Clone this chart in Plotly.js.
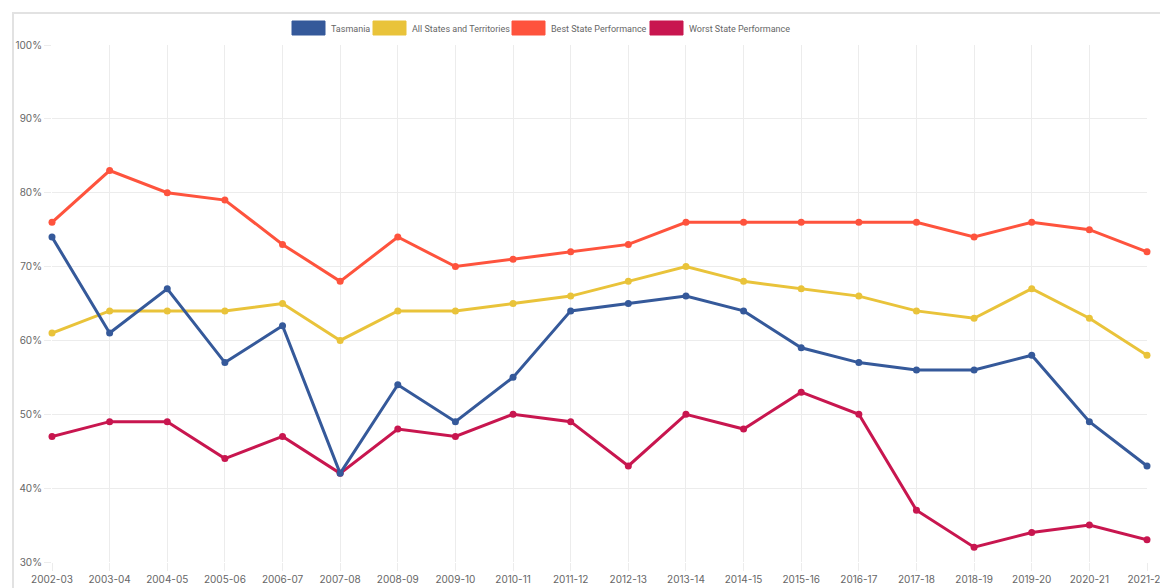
<!DOCTYPE html>
<html>
<head>
<meta charset="utf-8">
<script src="https://cdn.plot.ly/plotly-3.0.1.min.js"></script>
<style>
  html, body { margin: 0; padding: 0; background: #fff; overflow: hidden; }
  #wrap { position: relative; width: 1160px; height: 588px; }
  #frame { position: absolute; left: 12px; top: 12px; width: 1160px; height: 600px;
           border-left: 2px solid #e2e2e2; border-top: 2px solid #e2e2e2; pointer-events: none; }
  #chart { position: absolute; left: 0; top: 0; width: 1160px; height: 588px; }
</style>
</head>
<body>
<div id="wrap">
  <div id="chart"></div>
  <div id="frame"></div>
</div>
<script>
const years = ["2002-03","2003-04","2004-05","2005-06","2006-07","2007-08","2008-09","2009-10","2010-11","2011-12",
               "2012-13","2013-14","2014-15","2015-16","2016-17","2017-18","2018-19","2019-20","2020-21","2021-22"];
const tasmania = [74, 61, 67, 57, 62, 42, 54, 49, 55, 64, 65, 66, 64, 59, 57, 56, 56, 58, 49, 43];
const allStates = [61, 64, 64, 64, 65, 60, 64, 64, 65, 66, 68, 70, 68, 67, 66, 64, 63, 67, 63, 58];
const bestState = [76, 83, 80, 79, 73, 68, 74, 70, 71, 72, 73, 76, 76, 76, 76, 76, 74, 76, 75, 72];
const worstState = [47, 49, 49, 44, 47, 42, 48, 47, 50, 49, 43, 50, 48, 53, 50, 37, 32, 34, 35, 33];
const yTicks = [30, 40, 50, 60, 70, 80, 90, 100];

const seriesNames = ["Tasmania", "All States and Territories", "Best State Performance", "Worst State Performance"];
const seriesData = [tasmania, allStates, bestState, worstState];
const colors = ["#35599a", "#e9c33a", "#fe533d", "#c8164f"];

const W = 1160, H = 588;
const M = {l: 52, r: 13, t: 45, b: 26};
const pw = W - M.l - M.r, ph = H - M.t - M.b;
const px2x = px => (px - M.l) / pw;
const py2y = py => (H - M.b - py) / ph;

// Plot in reverse order so Tasmania line is on top like the reference
const traces = [];
for (let i = seriesData.length - 1; i >= 0; i--) {
  traces.push({
    type: "scatter", mode: "lines+markers",
    name: seriesNames[i], x: years, y: seriesData[i],
    line: {color: colors[i], width: 3},
    marker: {color: colors[i], size: 7},
    cliponaxis: false, showlegend: false,
    hovertemplate: "%{x}: %{y}%<extra>" + seriesNames[i] + "</extra>"
  });
}

// Custom Chart.js-like legend (box swatches)
const legendBoxes = [[292, 325], [373, 406], [512, 545], [650, 683]];
const legendTextX = [329, 410, 549, 687];
const shapes = [], annotations = [];
for (let i = 0; i < seriesNames.length; i++) {
  shapes.push({type: "rect", xref: "paper", yref: "paper",
    x0: px2x(legendBoxes[i][0]), x1: px2x(legendBoxes[i][1]),
    y0: py2y(35), y1: py2y(21),
    fillcolor: colors[i], line: {color: colors[i], width: 1}});
  annotations.push({xref: "paper", yref: "paper", x: px2x(legendTextX[i]), y: py2y(28.5),
    xanchor: "left", yanchor: "middle", showarrow: false, text: seriesNames[i],
    font: {family: "Roboto, sans-serif", size: 9, color: "#666"}});
}

const layout = {
  width: W, height: H,
  margin: {l: M.l, r: M.r, t: M.t, b: M.b, pad: 0},
  paper_bgcolor: "#fff", plot_bgcolor: "#fff",
  showlegend: false,
  font: {family: "Inter, sans-serif", size: 10, color: "#666"},
  xaxis: {
    type: "category", range: [0, years.length - 1],
    showgrid: true, gridcolor: "#ececec", gridwidth: 1,
    ticks: "outside", ticklen: 8, tickcolor: "#ececec", tickwidth: 1,
    showline: false, zeroline: false, automargin: false,
    tickfont: {family: "Inter, sans-serif", size: 10, color: "#666"}
  },
  yaxis: {
    range: [30, 100], tickvals: yTicks, ticktext: yTicks.map(v => v + "%"),
    showgrid: true, gridcolor: "#ececec", gridwidth: 1,
    ticks: "outside", ticklen: 7, tickcolor: "#ececec", tickwidth: 1,
    showline: false, zeroline: false, automargin: false,
    tickfont: {family: "Inter, sans-serif", size: 10, color: "#666"}
  },
  shapes: shapes,
  annotations: annotations
};

Plotly.newPlot("chart", traces, layout, {displayModeBar: false, responsive: false});
</script>
</body>
</html>
